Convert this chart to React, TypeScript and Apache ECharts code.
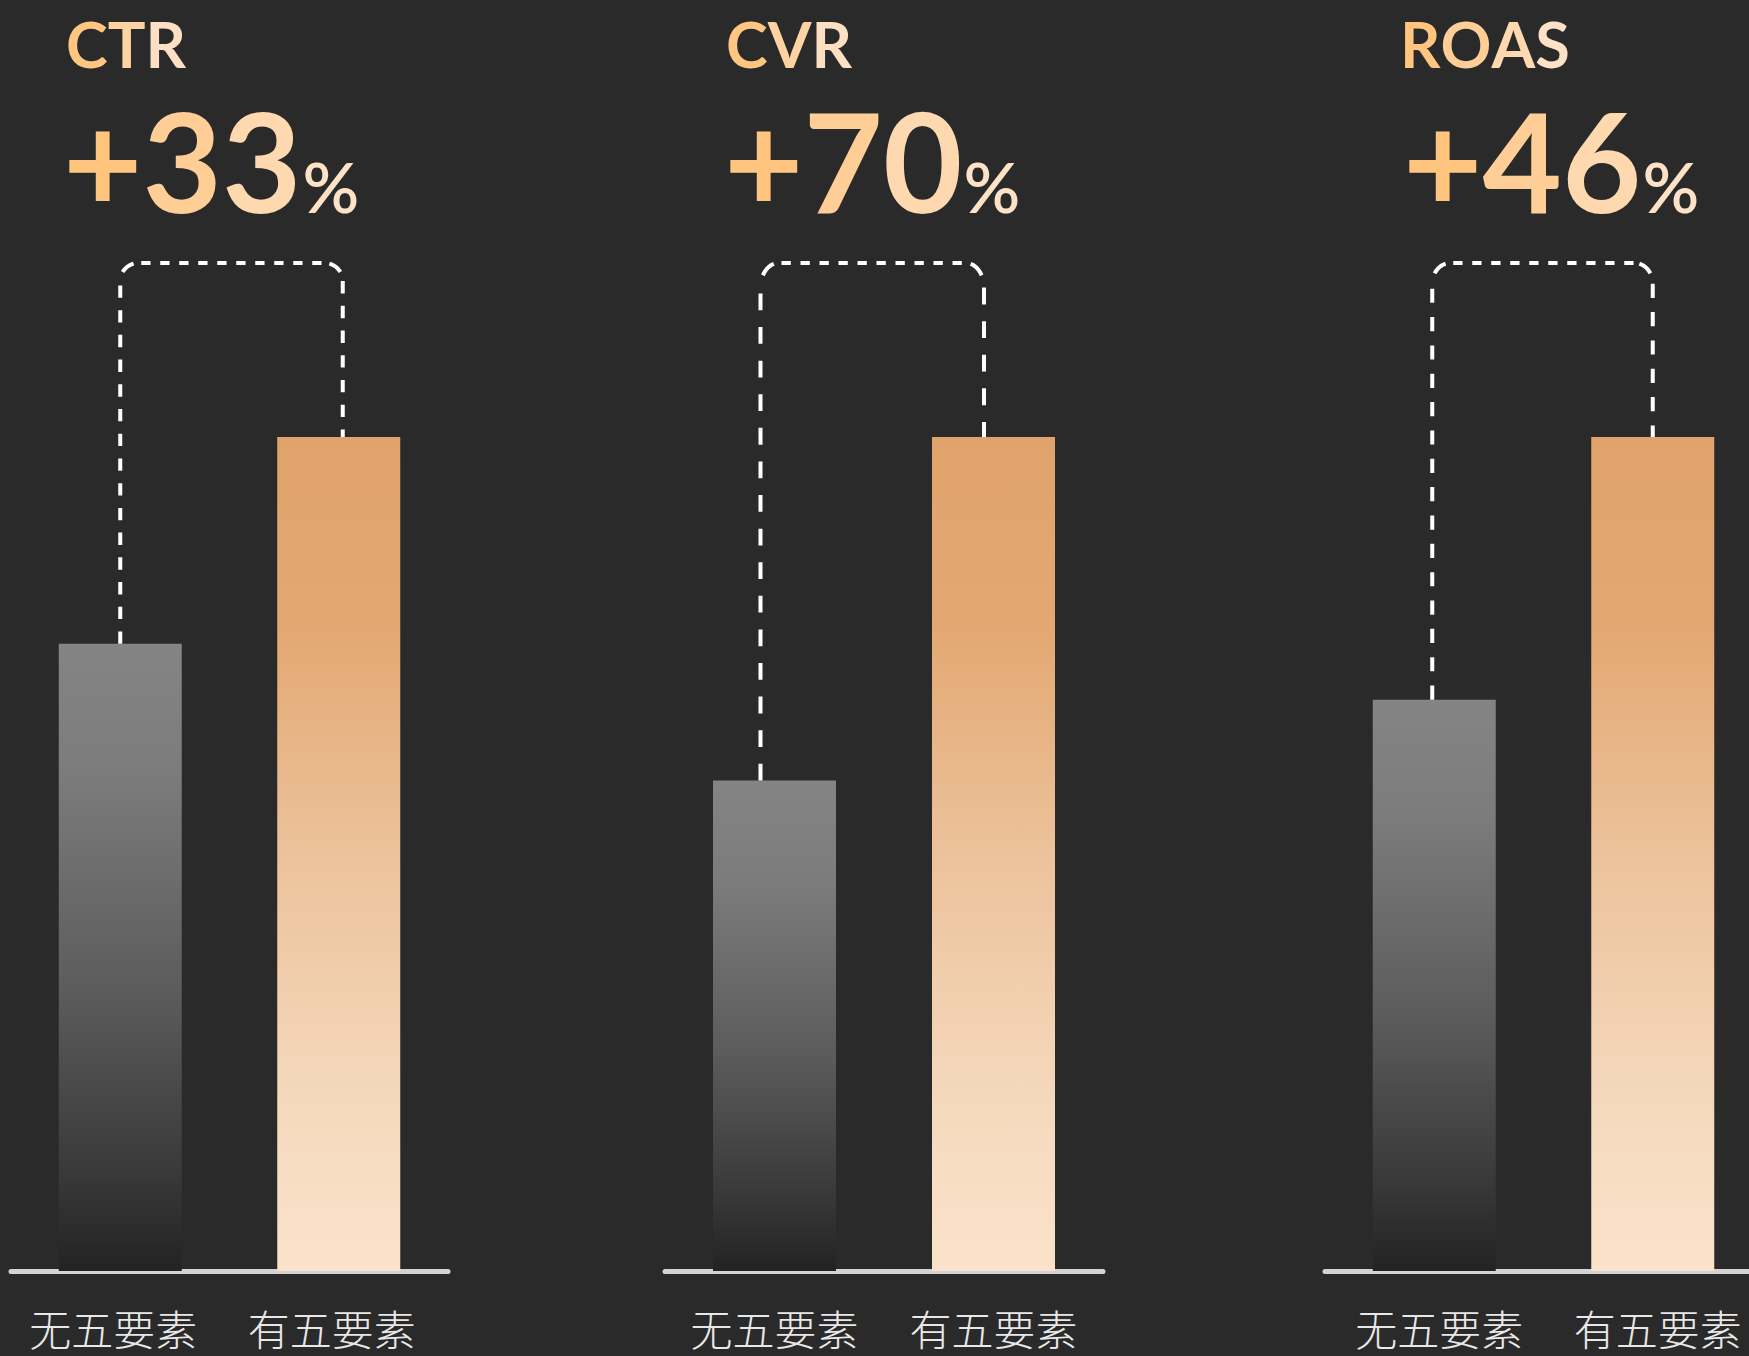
import React, { useEffect, useRef } from 'react';
import * as echarts from 'echarts';

// ---- data ----
const metrics = ['CTR', 'CVR', 'ROAS'];
const growthLabels = ['+33', '+70', '+46'];
const categories = ['无五要素', '有五要素'];
const withoutValues = [75.2, 58.8, 68.5];
const withValues = [100, 100, 100];

// ---- layout ----
const W = 1749;
const H = 1356;
const CHART_W = 1800;
const gridLefts = [11, 665, 1325];
const gridWidths = [437, 438, 437];
const gridTop = 437;
const axisY = 1271;
const titleX = [66, 726, 1400];
const numberX = [63, 724, 1403];
const labelShift = [-7, 0, 5];
const connectorOffset = [[0, 4], [-14, -9.5], [-2, 0]];
const BG = '#2a2a2a';
const K = 0.387; // baseline offset from centre, in em

const titleFont = 'Lato';
const titleSize = 63;
const titleBaseline = 68;
const numSize = 137;
const pctSize = 70;
const numBaseline = 213;
const GOLD_L = [255, 191, 114];
const GOLD_R = [253, 231, 211];

function lerpColor(t: number) {
  const c = GOLD_L.map((v, k) => Math.round(v + (GOLD_R[k] - v) * t));
  return `rgb(${c[0]},${c[1]},${c[2]})`;
}

function goldRich(text: string, size: number, weight: number, total: number) {
  const chars = Array.from(text);
  const rich: any = {};
  let str = '';
  chars.forEach((ch, j) => {
    const key = 'c' + j;
    rich[key] = {
      fill: lerpColor((j + 0.5) / total),
      fontSize: size,
      fontFamily: titleFont,
      fontWeight: weight,
    };
    str += `{${key}|${ch}}`;
  });
  return { text: str, rich };
}

function grayGrad() {
  return new echarts.graphic.LinearGradient(0, 0, 0, 1, [
    { offset: 0, color: '#848484' },
    { offset: 0.2, color: '#7c7c7c' },
    { offset: 0.55, color: '#5c5c5c' },
    { offset: 0.85, color: '#383838' },
    { offset: 1, color: '#232323' },
  ]);
}

function orangeGrad() {
  return new echarts.graphic.LinearGradient(0, 0, 0, 1, [
    { offset: 0, color: '#e0a36c' },
    { offset: 0.22, color: '#e3a771' },
    { offset: 0.5, color: '#ecc29b' },
    { offset: 0.8, color: '#f5d9bd' },
    { offset: 1, color: '#fae3ca' },
  ]);
}

function measure(text: string, font: string) {
  const c = document.createElement('canvas').getContext('2d');
  if (!c) return text.length * 80;
  c.font = font;
  return c.measureText(text).width;
}

export default function App() {
  const ref = useRef<HTMLDivElement>(null);

  useEffect(() => {
    if (!ref.current) return;
    const chart = echarts.init(ref.current, undefined, { renderer: 'svg' });

    const grids = gridLefts.map((l, i) => ({
      left: l,
      width: gridWidths[i],
      top: gridTop,
      height: axisY - gridTop,
      containLabel: false,
    }));

    const xAxes = metrics.map((_, i) => ({
      type: 'category',
      gridIndex: i,
      data: categories,
      axisTick: { show: false },
      axisLine: { show: true, lineStyle: { color: '#d3d3d3', width: 5 } },
      axisLabel: {
        interval: 0,
        color: '#e8e8e8',
        fontSize: 42,
        lineHeight: 42,
        fontFamily: 'Noto Sans CJK SC',
        fontWeight: 300,
        margin: 35,
        padding: labelShift[i] < 0 ? [0, -2 * labelShift[i], 0, 0] : [0, 0, 0, 2 * labelShift[i]],
      },
    }));

    const yAxes = metrics.map((_, i) => ({
      type: 'value',
      gridIndex: i,
      min: 0,
      max: 100,
      show: false,
      splitLine: { show: false },
    }));

    const barSeries = metrics.map((_, i) => ({
      type: 'bar',
      xAxisIndex: i,
      yAxisIndex: i,
      barWidth: 123,
      data: [
        { value: withoutValues[i], itemStyle: { color: grayGrad() } },
        { value: withValues[i], itemStyle: { color: orangeGrad() } },
      ],
      z: 2,
    }));

    const lineStyle = { stroke: '#ffffff', lineWidth: 4, fill: null };

    const connectorSeries = metrics.map((_, i) => ({
      type: 'custom',
      xAxisIndex: i,
      yAxisIndex: i,
      z: 3,
      silent: true,
      clip: false,
      data: [[0, withoutValues[i], 1, withValues[i]]],
      encode: { x: 0, y: 1 },
      renderItem: (params: any, api: any) => {
        const p0 = api.coord([api.value(0), api.value(1)]);
        const p1 = api.coord([api.value(2), api.value(3)]);
        const xL = p0[0] + connectorOffset[i][0];
        const xR = p1[0] + connectorOffset[i][1];
        const yL = p0[1];
        const yR = p1[1];
        const top = yR - 174;
        const s = (yL - top) / 379;
        const vd = 12.3 * s;
        const rx = 18;
        const ry = 18 * s;
        const cornerPts = (side: number) => {
          const pts: number[][] = [];
          for (let a = 30; a <= 75; a += 5) {
            const t = (a * Math.PI) / 180;
            const cx = side < 0 ? xL + rx * (1 - Math.cos(t)) : xR - rx * (1 - Math.cos(t));
            pts.push([cx, top + ry * (1 - Math.sin(t))]);
          }
          return pts;
        };
        return {
          type: 'group',
          children: [
            {
              type: 'line',
              shape: { x1: xL, y1: yL, x2: xL, y2: top + ry },
              style: { ...lineStyle, lineDash: [vd, vd] },
            },
            {
              type: 'line',
              shape: { x1: xL + 21, y1: top, x2: xR - 18, y2: top },
              style: { ...lineStyle, lineDash: [9.3, 9.7] },
            },
            {
              type: 'line',
              shape: { x1: xR, y1: top + ry, x2: xR, y2: yR },
              style: { ...lineStyle, lineDash: [vd, vd] },
            },
            { type: 'polyline', shape: { points: cornerPts(-1) }, style: { ...lineStyle } },
            { type: 'polyline', shape: { points: cornerPts(1) }, style: { ...lineStyle } },
          ],
        };
      },
    }));

    const graphics: any[] = [];
    metrics.forEach((m, i) => {
      const t = goldRich(m, titleSize, 700, m.length);
      graphics.push({
        type: 'text',
        x: titleX[i],
        y: titleBaseline - K * titleSize,
        style: {
          text: t.text,
          rich: t.rich,
          fontFamily: titleFont,
          fontSize: titleSize,
          fontWeight: 700,
          align: 'left',
          verticalAlign: 'middle',
        },
      });
      const numFont = `700 ${numSize}px ${titleFont}`;
      const w = measure(growthLabels[i], numFont);
      const total = growthLabels[i].length + 1;
      const n = goldRich(growthLabels[i], numSize, 700, total);
      graphics.push({
        type: 'text',
        x: numberX[i],
        y: numBaseline - K * numSize,
        style: {
          text: n.text,
          rich: n.rich,
          fontFamily: titleFont,
          fontSize: numSize,
          fontWeight: 700,
          align: 'left',
          verticalAlign: 'middle',
        },
      });
      graphics.push({
        type: 'text',
        x: numberX[i] + w + 1,
        y: numBaseline - K * pctSize,
        style: {
          text: '%',
          fontFamily: titleFont,
          fontSize: pctSize,
          fontWeight: 600,
          fill: lerpColor((total - 0.5) / total),
          align: 'left',
          verticalAlign: 'middle',
        },
      });
    });

    chart.setOption({
      animation: false,
      backgroundColor: BG,
      grid: grids,
      xAxis: xAxes,
      yAxis: yAxes,
      series: [...barSeries, ...connectorSeries],
      graphic: graphics,
    });

    return () => chart.dispose();
  }, []);

  return (
    <div
      style={{ position: 'fixed', left: 0, top: 0, width: W, height: H, overflow: 'hidden', background: BG }}
    >
      <div ref={ref} style={{ width: CHART_W, height: H }} />
    </div>
  );
}
